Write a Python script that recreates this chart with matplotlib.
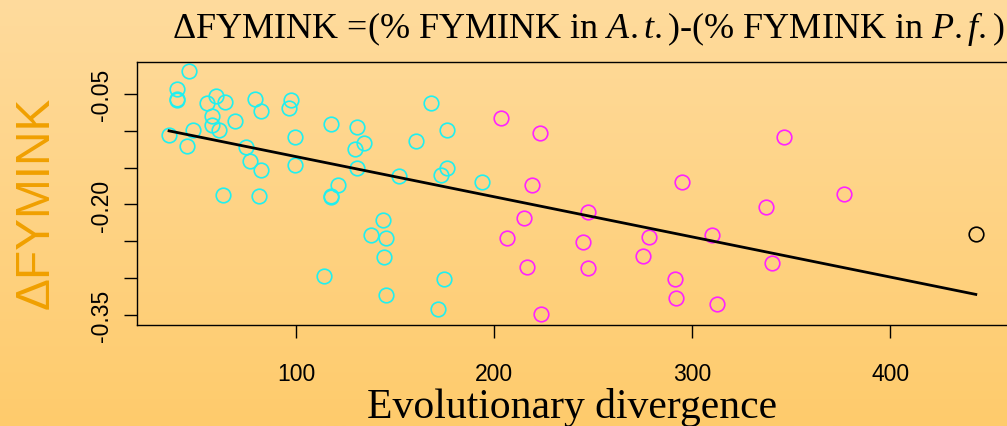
import numpy as np
import matplotlib
matplotlib.use("Agg")
import matplotlib.pyplot as plt

plt.rcParams['mathtext.fontset'] = 'custom'
plt.rcParams['mathtext.rm'] = 'Liberation Serif'
plt.rcParams['mathtext.it'] = 'Liberation Serif:italic'

# divergence / delta FYMINK
cyan_x = [45.9, 39.7, 39.7, 39.7, 54.8, 59.4, 64.1, 57.7, 57.7, 61.1, 48.1, 35.8,
          45.0, 69.0, 79.2, 82.3, 74.5, 76.7, 82.3, 63.2, 81.4, 97.4, 96.6, 99.6,
          99.6, 117.8, 130.6, 134.4, 129.7, 130.6, 152.1, 160.4, 168.1, 121.0, 117.8,
          117.8, 144.0, 137.7, 145.4, 144.5, 113.9, 145.4, 176.3, 176.3, 173.2, 193.7,
          174.7, 171.6]
cyan_y = [-0.0184, -0.0432, -0.0568, -0.0581, -0.0626, -0.0523, -0.0605, -0.0795,
          -0.0921, -0.0989, -0.0989, -0.1057, -0.1202, -0.0862, -0.0568, -0.0735,
          -0.1224, -0.1414, -0.1528, -0.1867, -0.1885, -0.0581, -0.0694, -0.1080,
          -0.1460, -0.0907, -0.0948, -0.1161, -0.1247, -0.1504, -0.1609, -0.1138,
          -0.0626, -0.1731, -0.1894, -0.1880, -0.2206, -0.2414, -0.2459, -0.2717,
          -0.2970, -0.3224, -0.0989, -0.1500, -0.1600, -0.1699, -0.3011, -0.3414]

magenta_x = [203.3, 223.1, 219.1, 215.1, 206.3, 216.7, 223.8, 247.5, 245.0, 247.5,
             295.0, 278.3, 275.3, 291.2, 291.8, 310.2, 312.5, 346.5, 337.1, 376.5, 340.2]
magenta_y = [-0.0822, -0.1033, -0.1735, -0.2183, -0.2459, -0.2844, -0.3482, -0.2098,
             -0.2505, -0.2862, -0.1695, -0.2437, -0.2695, -0.3011, -0.3265, -0.2410,
             -0.3355, -0.1080, -0.2034, -0.1862, -0.2798]

black_x = [443.2]
black_y = [-0.2396]

xticks = [100, 200, 300, 400]
yticks = [-0.05, -0.10, -0.15, -0.20, -0.25, -0.30, -0.35]
ylabels = ['-0.05', '', '', '-0.20', '', '', '-0.35']

fig = plt.figure(figsize=(10.07, 4.27), dpi=100)

# background gradient
bg = fig.add_axes([0, 0, 1, 1], zorder=-10)
top = np.array([255, 219, 157]) / 255
bot = np.array([254, 203, 108]) / 255
t = np.linspace(0, 1, 256)[:, None, None]
grad = top * (1 - t) + bot * t
bg.imshow(grad, aspect='auto', extent=[0, 1, 0, 1])
bg.axis('off')

ax = fig.add_axes([0.136, 0.2365, 0.8635, 0.616])
ax.patch.set_alpha(0)

ms = 10.5
mew = 1.2
ax.plot(cyan_x, cyan_y, 'o', mfc='none', mec='#1FF0F0', ms=ms, mew=mew)
ax.plot(magenta_x, magenta_y, 'o', mfc='none', mec='#FF22FF', ms=ms, mew=mew)
ax.plot(black_x, black_y, 'o', mfc='none', mec='black', ms=ms, mew=mew)

all_x = np.array(cyan_x + magenta_x + black_x)
all_y = np.array(cyan_y + magenta_y + black_y)
b, a = np.polyfit(all_x, all_y, 1)
xs = np.sort(all_x)
ax.plot(xs, a + b * xs, color='black', lw=2)

ax.set_xlim(19.6, 458.7)
ax.set_ylim(-0.3636, -0.0066)
ax.set_xticks(xticks)
ax.set_xticklabels([str(v) for v in xticks], fontsize=16.5, fontfamily='Liberation Sans')
ax.set_yticks(yticks)
ax.set_yticklabels(ylabels, fontsize=16.5, fontfamily='Liberation Sans', rotation=90, va='center')
ax.tick_params(length=9.5, width=1)
ax.tick_params(axis='x', pad=17)
ax.tick_params(axis='y', pad=8)
ax.spines['right'].set_visible(False)
for s in ['left', 'top', 'bottom']:
    ax.spines[s].set_linewidth(1)

fig.text(0.5845, 0.91, r'$\mathregular{\Delta}$FYMINK =(% FYMINK in $\mathit{A.t.}$)-(% FYMINK in $\mathit{P.f.}$)',
         fontsize=26, fontfamily='Liberation Serif', ha='center', va='baseline')
fig.text(0.5685, 0.02, 'Evolutionary divergence', fontsize=30,
         fontfamily='Liberation Serif', ha='center', va='baseline')
fig.text(0.036, 0.5246, '\u0394FYMINK', fontsize=34.5, fontfamily='Liberation Sans',
         color='#F0A000', rotation=90, ha='center', va='center')

fig.savefig('out.png', dpi=100)
